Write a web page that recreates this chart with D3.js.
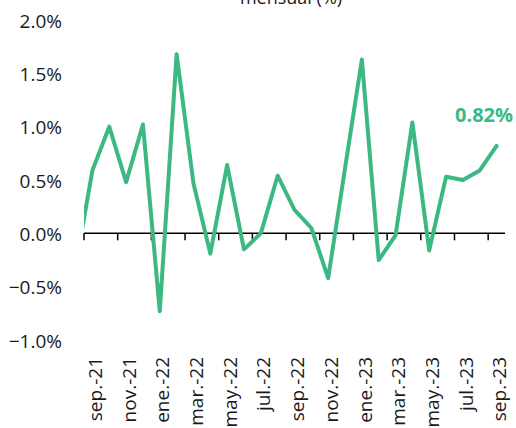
<!DOCTYPE html>
<html>
<head>
<meta charset="utf-8">
<script src="https://cdn.jsdelivr.net/npm/d3@7"></script>
<style>
  html, body { margin: 0; padding: 0; background: #fff; }
  svg { display: block; }
  text { font-family: "Open Sans", "Noto Sans", sans-serif; fill: #1a1a1a; }
</style>
</head>
<body>
<script>
// Categories (monthly); the first one lies just left of the plot area and is clipped
const months = ["ago.-21","sep.-21","oct.-21","nov.-21","dic.-21","ene.-22","feb.-22","mar.-22","abr.-22",
  "may.-22","jun.-22","jul.-22","ago.-22","sep.-22","oct.-22","nov.-22","dic.-22","ene.-23","feb.-23",
  "mar.-23","abr.-23","may.-23","jun.-23","jul.-23","ago.-23","sep.-23"];
const values = [-0.31, 0.59, 1.00, 0.48, 1.02, -0.73, 1.68, 0.47, -0.19, 0.64, -0.15, 0.00, 0.54,
  0.22, 0.05, -0.42, 0.61, 1.63, -0.25, -0.02, 1.04, -0.16, 0.53, 0.50, 0.59, 0.82];
const yTicks = [-1.0, -0.5, 0.0, 0.5, 1.0, 1.5, 2.0];
const xLabelEvery = 2;
const titleText = "mensual (%)";
const lastLabel = "0.82%";

const W = 516, H = 428;
const green = "#3cb882";

const svg = d3.select("body").append("svg").attr("width", W).attr("height", H);

const x = d3.scaleLinear().domain([0.5, months.length - 0.5]).range([84, 505]);
const y = d3.scaleLinear().domain([-1, 2]).range([340, 20]);

// title (mostly cut off at top, as in the reference)
svg.append("text").attr("x", 291).attr("y", 4).attr("text-anchor", "middle")
  .style("font-size", "18px").text(titleText);

// y labels
svg.append("g").selectAll("text").data(yTicks).join("text")
  .attr("x", 62).attr("y", d => y(d) + 1).attr("dy", "0.35em")
  .attr("text-anchor", "end").style("font-size", "19px")
  .text(d => d3.format(".1f")(d) + "%");

// clip
svg.append("clipPath").attr("id", "plotclip").append("rect")
  .attr("x", x(0.5)).attr("y", 0).attr("width", x(months.length - 0.5) - x(0.5)).attr("height", H);

// x axis line + ticks
const y0 = y(0);
svg.append("line").attr("x1", x(0.5)).attr("x2", x(months.length - 0.5))
  .attr("y1", y0).attr("y2", y0).attr("stroke", "#000").attr("stroke-width", 1.5);
const tickPos = d3.range(0.5, months.length - 1, xLabelEvery);
svg.append("g").selectAll("line").data(tickPos).join("line")
  .attr("x1", d => x(d)).attr("x2", d => x(d)).attr("y1", y0).attr("y2", y0 + 7)
  .attr("stroke", "#000").attr("stroke-width", 1.5);

// x labels
const labelIdx = d3.range(1, months.length, xLabelEvery);
svg.append("g").selectAll("text").data(labelIdx).join("text")
  .attr("transform", i => `translate(${x(i) + 3},357) rotate(-90)`)
  .attr("dy", "0.35em").attr("text-anchor", "end").style("font-size", "19px")
  .text(i => months[i]);

// line
const line = d3.line().x((d, i) => x(i)).y(d => y(d));
svg.append("path").datum(values).attr("d", line)
  .attr("clip-path", "url(#plotclip)")
  .attr("fill", "none").attr("stroke", green).attr("stroke-width", 4)
  .attr("stroke-linejoin", "round").attr("stroke-linecap", "round");

// last value label
svg.append("text").attr("x", 455).attr("y", 122)
  .style("font-size", "20px").style("font-weight", "bold").style("fill", green)
  .text(lastLabel);
</script>
</body>
</html>
